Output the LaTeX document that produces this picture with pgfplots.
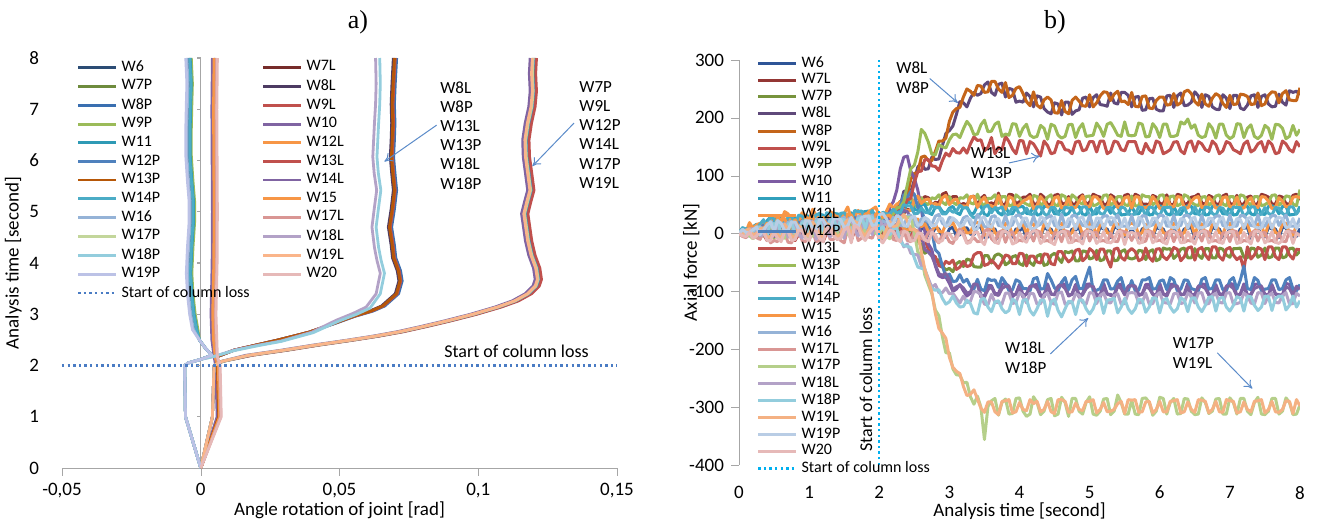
\documentclass[border=0pt]{standalone}
\usepackage{pgfplots}
\pgfplotsset{compat=1.18}
\usepackage{pgfplotstable}
\usepackage{fontspec}
\setmainfont{Carlito}
\newfontfamily\titlefont{Liberation Serif}
\usetikzlibrary{arrows.meta}

% left panel colours
\definecolor{aW6}{HTML}{2C4D75}\definecolor{aW7L}{HTML}{772C2A}\definecolor{aW7P}{HTML}{6E8B3D}
\definecolor{aW8L}{HTML}{4D3B62}\definecolor{aW8P}{HTML}{3A6FB0}\definecolor{aW9L}{HTML}{C0504D}
\definecolor{aW9P}{HTML}{9BBB59}\definecolor{aW10}{HTML}{8064A2}\definecolor{aW11}{HTML}{2E9AB5}
\definecolor{aW12L}{HTML}{F79646}\definecolor{aW12P}{HTML}{4F81BD}\definecolor{aW13L}{HTML}{C0504D}
\definecolor{aW13P}{HTML}{B65708}\definecolor{aW14L}{HTML}{8064A2}\definecolor{aW14P}{HTML}{4BACC6}
\definecolor{aW15}{HTML}{F79646}\definecolor{aW16}{HTML}{95B3D7}\definecolor{aW17L}{HTML}{D99694}
\definecolor{aW17P}{HTML}{C3D69B}\definecolor{aW18L}{HTML}{B3A2C7}\definecolor{aW18P}{HTML}{93CDDD}
\definecolor{aW19L}{HTML}{FAB58A}\definecolor{aW19P}{HTML}{BCC2E6}\definecolor{aW20}{HTML}{E6B9B8}
% right panel colours
\definecolor{bW6}{HTML}{2F5597}\definecolor{bW7L}{HTML}{943634}\definecolor{bW7P}{HTML}{77933C}
\definecolor{bW8L}{HTML}{5F497A}\definecolor{bW8P}{HTML}{C4651A}\definecolor{bW9L}{HTML}{C0504D}
\definecolor{bW9P}{HTML}{9BBB59}\definecolor{bW10}{HTML}{7D5CA3}\definecolor{bW11}{HTML}{31A0BC}
\definecolor{bW12L}{HTML}{F79646}\definecolor{bW12P}{HTML}{4F81BD}\definecolor{bW13L}{HTML}{C0504D}
\definecolor{bW13P}{HTML}{9BBB59}\definecolor{bW14L}{HTML}{8064A2}\definecolor{bW14P}{HTML}{4BACC6}
\definecolor{bW15}{HTML}{F79646}\definecolor{bW16}{HTML}{95B3D7}\definecolor{bW17L}{HTML}{D99694}
\definecolor{bW17P}{HTML}{B5CF8A}\definecolor{bW18L}{HTML}{B3A2C7}\definecolor{bW18P}{HTML}{93CDDD}
\definecolor{bW19L}{HTML}{F4B183}\definecolor{bW19P}{HTML}{B9CDE5}\definecolor{bW20}{HTML}{E6B9B8}
\definecolor{lossA}{HTML}{4A7CC4}
\definecolor{lossB}{HTML}{00B0F0}
\definecolor{arrowc}{HTML}{5B8BC9}

\pgfplotstableread{
t W6 W7L W7P W8L W8P W9L W9P W10 W11 W12L W12P W13L W13P W14L W14P W15 W16 W17L W17P W18L W18P W19L W19P W20
0.0 0 0 0 0 0 0 0 0 0 0 0 0 0 0 0 0 0 0 0 0 0 0 0 0
0.05 3 1 6 0 8 -2 6 2 10 6 5 -3 6 1 10 4 7 -5 6 0 7 -2 7 -4
0.1 3 -4 6 2 -5 4 -2 7 5 3 -6 2 4 -3 8 -2 5 -7 1 3 -4 6 2 -5
0.15 -2 10 2 10 1 4 0 10 9 19 -2 6 0 8 10 13 1 0 -4 8 2 8 2 2
0.2 -6 8 -3 10 4 -8 7 -2 12 9 5 -7 3 9 6 10 -4 2 -9 8 4 -3 7 -8
0.25 6 8 0 3 10 6 2 2 16 15 0 7 6 -2 10 14 7 -7 -2 6 12 0 11 -4
0.3 8 -3 12 -5 15 6 -9 14 4 18 -8 10 -6 4 16 3 12 -10 7 -4 10 8 -2 5
0.35 0 2 12 18 4 -2 11 17 12 16 15 -1 -2 9 24 8 2 3 9 -2 6 10 6 4
0.4 -10 12 2 16 0 -12 10 5 22 14 12 -5 9 12 10 18 4 -2 -6 12 -3 -7 15 -12
0.45 10 4 17 1 23 -6 18 7 29 19 16 -8 19 2 31 13 21 -16 19 1 20 -5 20 -12
0.5 5 -6 14 4 18 8 -4 16 14 30 -2 6 -8 -5 24 8 16 -12 10 0 14 5 3 2
0.55 13 16 0 6 19 11 5 5 31 30 1 14 12 -3 21 27 14 -14 -3 13 23 -1 22 -8
0.6 -8 15 0 18 6 -10 12 4 26 20 14 -9 15 14 12 22 2 0 -8 15 -2 -10 18 -14
0.65 -3 21 5 20 2 7 -1 20 18 38 -3 13 0 15 20 26 2 0 -8 17 5 16 5 3
0.7 10 -2 16 2 22 12 -6 18 12 34 0 8 -2 -4 28 10 20 -15 12 -6 16 7 6 4
0.75 10 4 17 1 23 -6 18 7 29 19 16 -8 19 2 31 13 21 -16 19 1 20 -5 20 -12
0.8 -4 14 -6 20 4 -8 15 6 28 18 16 -12 12 16 14 24 -2 4 -4 18 0 -6 20 -10
0.85 0 3 16 24 6 -3 15 23 16 22 20 -1 -2 12 32 11 3 4 12 -2 8 13 8 6
0.9 12 0 18 6 24 10 -2 20 16 36 -4 10 0 -2 30 6 22 -12 14 -8 18 10 4 6
0.95 13 16 0 6 19 11 5 5 31 30 1 14 12 -3 21 27 14 -14 -3 13 23 -1 22 -8
1.0 -2 16 -2 16 2 -12 16 2 30 22 18 -6 14 18 18 26 0 2 -6 20 2 -4 22 -12
1.05 1 25 9 24 6 11 3 24 22 42 1 17 4 19 24 30 6 4 -4 21 9 20 9 7
1.1 14 2 20 4 20 6 0 22 14 32 -6 12 2 0 32 8 24 -14 16 -10 20 12 6 4
1.15 14 8 21 5 27 -2 22 11 33 23 20 -4 23 6 35 17 25 -12 23 5 24 -1 24 -8
1.2 -6 18 0 22 6 -14 14 8 32 24 20 -8 16 20 16 28 -2 6 -2 22 4 -8 24 -14
1.25 4 7 20 28 10 1 19 27 20 26 24 3 2 16 36 15 7 8 16 2 12 17 12 10
1.3 12 4 22 2 26 8 2 20 18 38 -2 14 4 -4 34 10 26 -10 18 -6 22 14 8 8
1.35 17 20 4 10 23 15 9 9 35 34 5 18 16 1 25 31 18 -10 1 17 27 3 26 -4
1.4 -4 20 -4 18 8 -10 18 6 34 20 22 -4 18 16 20 30 2 0 -4 24 6 -6 26 -10
1.45 14 8 21 5 27 -2 22 11 33 23 20 -4 23 6 35 17 25 -12 23 5 24 -1 24 -8
1.5 16 6 24 8 22 10 4 24 16 34 -4 16 6 2 36 12 28 -16 20 -8 24 16 10 6
1.55 5 29 13 28 10 15 7 28 26 46 5 21 8 23 28 34 10 8 0 25 13 24 13 11
1.6 -8 22 2 24 10 -12 20 10 36 26 24 -10 20 22 22 32 4 4 -8 26 8 -10 28 -16
1.65 8 11 24 32 14 5 23 31 24 30 28 7 6 20 40 19 11 12 20 6 16 21 16 14
1.7 14 8 26 6 28 12 0 26 20 40 0 18 2 0 38 14 30 -12 22 -4 26 18 12 10
1.75 18 12 25 9 31 2 26 15 37 27 24 0 27 10 39 21 29 -8 27 9 28 3 28 -4
1.8 -2 24 0 26 12 -8 22 12 38 28 26 -6 22 24 24 34 6 2 -2 28 10 -4 30 -12
1.85 21 24 8 14 27 19 13 13 39 38 9 22 20 5 29 35 22 -6 5 21 31 7 30 0
1.9 18 10 28 10 30 14 6 28 22 42 2 20 8 4 40 16 32 -8 24 -2 28 20 14 8
1.95 5 29 13 28 10 15 7 28 26 46 5 21 8 23 28 34 10 8 0 25 13 24 13 11
2.0 0 26 -4 22 14 -10 18 8 34 30 20 -8 16 20 26 36 8 -4 0 24 6 -2 32 -10
2.05 4 22 11 14 26 -10 33 9 35 25 25 -6 32 15 37 28 22 -9 11 13 12 -7 35 -16
2.1 -3 34 12 28 20 2 28 24 26 38 14 20 26 22 34 30 18 6 -4 16 2 6 26 -6
2.15 -3 41 -2 40 11 4 24 46 27 51 13 30 22 26 34 32 13 4 -9 17 -2 21 13 6
2.2 10 30 -6 36 26 -8 38 55 40 44 34 22 34 16 42 18 28 -10 14 0 8 12 18 4
2.25 11 42 -6 36 46 12 38 75 46 51 34 43 44 14 36 30 23 -12 9 1 9 14 31 -9
2.3 -6 46 14 48 56 10 44 112 38 54 48 44 46 34 36 24 14 2 22 -8 -12 26 28 -14
2.35 -1 35 14 73 53 0 57 132 38 41 67 46 55 40 50 8 13 5 31 -23 -21 33 14 4
2.4 12 42 2 74 66 -4 56 134 54 40 62 58 84 38 48 6 30 -12 28 -18 -22 22 12 2
2.45 8 40 7 72 94 -5 62 108 53 40 73 61 112 27 48 9 32 -14 28 -34 -24 6 27 -13
2.5 -8 54 -2 92 104 6 48 96 42 58 68 88 118 28 34 22 16 4 2 -36 -42 8 30 -12
2.55 -7 65 -15 115 106 4 46 75 40 65 45 107 141 20 35 25 11 4 -32 -37 -58 0 14 1
2.6 8 58 -18 122 132 -12 62 42 50 52 44 108 180 -2 44 12 26 -8 -38 -56 -60 -32 16 0
2.65 11 64 -34 111 134 -9 53 3 50 58 21 128 173 -28 37 17 25 -11 -72 -62 -61 -62 28 -11
2.7 -4 62 -30 112 126 -28 50 -18 36 60 12 128 158 -32 36 4 20 2 -88 -78 -84 -82 24 -14
2.75 -1 49 -33 132 126 -37 62 -28 33 50 4 117 137 -39 48 3 16 6 -104 -93 -95 -101 13 2
2.8 10 54 -48 128 142 -40 60 -56 46 52 -28 116 136 -54 44 16 30 -10 -132 -88 -98 -138 14 -2
2.85 8 53 -45 129 160 -55 67 -73 47 48 -34 109 154 -69 46 4 33 -16 -142 -102 -97 -164 26 -15
2.9 -6 68 -56 152 160 -58 54 -76 38 62 -56 126 150 -72 34 2 18 -2 -178 -102 -112 -172 26 -12
2.95 -6 71 -63 173 165 -48 50 -75 35 66 -74 139 148 -69 34 16 13 -2 -206 -94 -122 -181 12 1
3.0 8 56 -60 178 194 -52 64 -86 44 50 -70 134 162 -80 42 14 28 -14 -206 -104 -118 -214 16 0
3.05 11 64 -66 186 210 -46 54 -100 47 57 -83 147 171 -97 37 19 26 -17 -234 -103 -108 -231 27 -9
3.1 -4 64 -52 206 216 -62 50 -96 36 60 -82 140 172 -92 38 6 20 -4 -244 -112 -120 -238 22 -10
3.15 -2 49 -48 228 218 -58 62 -88 33 48 -71 139 166 -89 49 2 14 9 -245 -120 -127 -242 12 4
3.2 9 52 -57 226 236 -48 61 -99 47 48 -84 148 181 -94 44 12 27 1 -258 -108 -126 -264 15 -3
3.25 10 49 -44 219 250 -57 67 -108 46 47 -79 139 194 -103 45 1 30 -15 -257 -119 -115 -280 26 -17
3.3 -1 63 -46 234 246 -55 53 -103 35 64 -91 155 186 -101 33 1 16 -12 -282 -117 -121 -278 25 -15
3.35 -2 65 -57 244 239 -37 51 -89 35 64 -96 167 171 -87 27 18 14 -7 -295 -100 -137 -270 7 1
3.4 12 49 -58 239 256 -33 68 -87 48 45 -79 161 172 -88 30 19 33 -14 -281 -101 -139 -286 8 3
3.45 11 61 -58 242 255 -33 54 -106 47 56 -96 162 188 -110 35 17 24 -13 -300 -106 -114 -302 26 -12
3.5 -7 66 -38 257 244 -55 47 -108 33 63 -99 143 196 -110 46 -3 12 4 -356 -122 -112 -309 29 -19
3.55 -6 51 -38 262 245 -53 61 -90 31 50 -78 149 176 -97 49 -1 11 8 -299 -123 -127 -291 14 1
3.6 3 53 -51 244 263 -46 61 -90 45 48 -81 166 177 -92 36 15 29 -9 -289 -105 -135 -291 11 1
3.65 8 51 -38 239 263 -52 67 -104 45 45 -80 138 189 -105 45 2 31 -15 -285 -119 -118 -308 24 -15
3.7 -9 70 -35 258 250 -60 52 -104 36 66 -93 149 193 -107 43 -5 14 2 -314 -119 -116 -313 26 -17
3.75 -2 50 -39 260 244 -49 64 -88 32 48 -76 145 168 -95 46 0 13 5 -292 -122 -130 -290 12 3
3.8 10 51 -54 236 261 -37 64 -86 47 42 -85 168 172 -91 31 18 31 -15 -286 -103 -137 -289 9 4
3.85 -5 68 -50 251 235 -39 48 -91 34 64 -99 159 170 -92 34 15 12 1 -312 -103 -133 -287 9 0
3.9 -6 67 -40 249 239 -52 49 -109 34 61 -97 146 190 -106 45 -2 15 3 -311 -121 -113 -310 28 -18
3.95 8 51 -38 227 251 -52 67 -104 45 45 -80 138 189 -105 45 2 31 -15 -285 -119 -118 -308 24 -15
4.0 5 55 -52 229 254 -34 62 -88 46 50 -83 161 168 -93 33 14 32 -11 -284 -102 -140 -292 10 2
4.05 11 63 -55 227 242 -35 54 -106 47 56 -95 160 182 -110 35 16 24 -13 -307 -107 -115 -304 26 -11
4.1 -10 63 -37 243 228 -56 51 -105 35 59 -95 138 189 -104 44 0 13 0 -316 -120 -114 -306 27 -15
4.15 -5 68 -50 237 221 -39 48 -91 34 64 -99 159 170 -92 34 15 12 1 -312 -103 -133 -287 9 0
4.2 9 52 -55 219 245 -39 66 -89 48 43 -78 155 166 -90 32 17 30 -13 -282 -104 -141 -294 8 5
4.25 -2 50 -39 238 222 -49 64 -88 32 48 -76 145 168 -95 46 0 13 5 -292 -122 -130 -290 12 3
4.3 -5 68 -36 236 217 -51 48 -107 33 64 -96 134 187 -108 46 -4 16 2 -313 -121 -115 -308 29 -17
4.35 11 63 -55 216 231 -35 54 -106 47 56 -95 160 182 -110 35 16 24 -13 -307 -107 -115 -304 26 -11
4.4 7 50 -53 210 236 -36 63 -87 47 46 -69 152 163 -92 30 16 28 -12 -287 -103 -143 -290 9 3
4.45 8 51 -38 207 231 -52 67 -104 45 45 -80 138 189 -105 45 2 31 -15 -285 -119 -118 -308 24 -15
4.5 -8 66 -34 226 209 -54 50 -106 34 62 -94 140 186 -105 45 -1 14 1 -315 -122 -113 -311 28 -19
4.55 -5 68 -42 224 208 -31 48 -91 34 64 -99 159 170 -92 34 15 12 1 -312 -103 -133 -287 9 0
4.6 11 53 -50 205 230 -31 67 -86 46 44 -84 157 165 -89 31 18 33 -14 -283 -101 -144 -287 10 4
4.65 -2 50 -31 227 211 -41 64 -88 32 48 -76 145 168 -95 46 0 13 5 -292 -122 -130 -290 12 3
4.7 -4 64 -33 227 207 -49 49 -108 35 61 -97 144 188 -107 44 -3 12 3 -316 -120 -117 -309 26 -16
4.75 8 51 -30 206 230 -44 67 -104 45 45 -80 138 189 -105 45 2 31 -15 -285 -119 -118 -308 24 -15
4.8 6 51 -47 212 236 -29 62 -88 47 45 -74 158 166 -91 32 15 31 -11 -285 -104 -140 -293 8 2
4.85 11 63 -47 214 229 -27 54 -106 47 56 -95 160 182 -110 35 16 24 -13 -307 -107 -115 -304 26 -11
4.9 -9 67 -30 234 221 -47 51 -104 33 65 -95 143 190 -106 46 -2 14 0 -312 -119 -115 -306 29 -18
4.95 -2 50 -31 236 220 -41 64 -88 32 48 -76 145 168 -95 46 0 13 5 -292 -122 -130 -290 12 3
5.0 12 54 -44 219 240 -26 65 -87 48 46 -58 159 169 -90 30 19 32 -13 -282 -102 -139 -290 11 5
5.05 -5 68 -42 235 219 -31 48 -91 34 64 -99 159 170 -92 34 15 12 1 -312 -103 -130 -287 9 0
5.1 -6 65 -29 240 226 -45 50 -106 34 63 -98 141 191 -108 44 -4 13 2 -314 -121 -113 -310 27 -17
5.15 11 63 -47 223 238 -27 54 -106 47 56 -95 160 182 -110 35 16 24 -13 -307 -107 -112 -304 26 -11
5.2 8 50 -45 222 245 -27 66 -86 46 43 -80 160 168 -92 33 16 30 -12 -286 -103 -138 -292 9 3
5.25 8 51 -30 220 244 -44 67 -104 45 45 -80 138 189 -105 45 2 31 -15 -285 -119 -115 -308 24 -15
5.3 -7 67 -30 243 230 -58 49 -107 35 64 -96 142 192 -105 45 -1 15 1 -313 -120 -114 -307 28 -16
5.35 11 63 -47 226 241 -27 54 -106 47 56 -95 160 182 -110 35 16 24 -13 -307 -107 -112 -304 26 -11
5.4 10 52 -46 224 246 -25 64 -88 47 45 -82 158 170 -91 31 17 32 -14 -279 -104 -137 -294 10 4
5.45 -2 50 -31 244 228 -41 64 -88 32 48 -76 145 168 -95 46 0 13 5 -292 -122 -127 -290 12 3
5.5 -5 66 -28 244 229 -46 50 -105 33 62 -97 143 193 -106 44 -3 13 3 -312 -121 -112 -311 27 -19
5.55 -5 68 -42 239 223 -31 48 -91 34 64 -99 159 170 -92 34 15 12 1 -312 -103 -130 -287 9 0
5.6 9 53 -44 219 244 -26 65 -87 48 44 -81 159 169 -90 32 18 31 -12 -288 -102 -138 -288 9 2
5.65 -5 68 -42 236 220 -31 48 -91 34 64 -99 159 170 -92 34 15 12 1 -312 -103 -130 -287 9 0
5.7 -8 65 -29 237 219 -47 48 -106 34 63 -98 141 191 -107 46 -2 14 0 -313 -120 -113 -309 28 -17
5.75 8 51 -30 213 237 -44 67 -104 45 45 -80 138 189 -105 45 2 31 -15 -285 -119 -115 -308 24 -15
5.8 11 51 -45 214 238 -25 64 -88 47 45 -80 156 167 -92 30 16 30 -13 -284 -103 -136 -291 10 5
5.85 -2 50 -31 233 217 -41 64 -88 32 48 -76 145 168 -95 46 0 13 5 -292 -122 -127 -290 12 3
5.9 -6 66 -28 234 216 -48 50 -105 33 64 -96 140 190 -105 45 -4 15 2 -314 -121 -111 -310 27 -16
5.95 11 63 -47 215 230 -27 54 -106 47 56 -95 160 182 -110 35 16 24 -13 -307 -107 -112 -304 26 -11
6.0 8 52 -44 212 236 -26 66 -86 48 43 -82 157 166 -91 31 17 32 -11 -283 -102 -137 -290 9 3
6.05 8 51 -25 212 236 -40 67 -104 45 45 -80 138 189 -105 45 2 31 -15 -285 -119 -115 -308 24 -15
6.1 -7 67 -27 238 222 -45 49 -107 34 62 -97 141 189 -108 45 -1 13 1 -312 -120 -112 -308 28 -18
6.15 -2 50 -26 239 223 -37 64 -88 32 48 -76 145 168 -95 46 0 13 5 -292 -122 -127 -290 12 3
6.2 10 50 -43 218 242 -24 65 -87 47 46 -80 158 168 -90 32 18 31 -14 -285 -104 -136 -289 10 4
6.25 -5 68 -37 238 222 -27 48 -91 34 64 -99 159 170 -92 34 15 12 1 -312 -103 -130 -287 9 0
6.3 -5 66 -27 243 226 -47 51 -106 33 63 -96 143 193 -106 44 -3 14 3 -311 -121 -111 -310 26 -16
6.35 8 51 -25 221 245 -40 67 -104 45 45 -80 138 189 -105 45 2 31 -15 -285 -119 -115 -308 24 -15
6.4 9 52 -42 222 248 -25 64 -86 48 44 -81 157 198 -92 31 16 32 -12 -286 -103 -135 -291 9 3
6.45 11 63 -42 227 242 -23 54 -106 47 56 -95 160 182 -110 35 16 24 -13 -307 -107 -112 -304 26 -11
6.5 -8 64 -26 245 228 -46 50 -105 34 62 -97 142 188 -107 46 -2 13 0 -313 -120 -111 -309 28 -18
6.55 -5 68 -37 238 222 -27 48 -91 34 64 -99 159 170 -92 34 15 12 1 -312 -103 -127 -287 9 0
6.6 11 53 -43 218 241 -24 63 -87 47 45 -79 155 166 -91 30 17 31 -13 -284 -102 -135 -288 10 5
6.65 -2 50 -26 240 224 -37 64 -88 32 48 -76 145 168 -95 46 0 13 5 -292 -122 -124 -290 12 3
6.7 -6 66 -26 237 220 -45 49 -106 33 63 -96 142 190 -106 45 -4 15 2 -311 -121 -110 -310 27 -16
6.75 11 63 -42 219 234 -23 54 -106 47 56 -95 160 182 -110 35 16 24 -13 -307 -107 -109 -304 26 -11
6.8 8 51 -42 215 242 -23 65 -88 48 44 -80 154 165 -92 31 16 30 -12 -286 -103 -134 -290 9 3
6.85 8 51 -25 214 238 -40 67 -104 45 45 -80 138 189 -105 45 2 31 -15 -285 -119 -112 -308 24 -15
6.9 -7 65 -27 240 225 -46 51 -105 34 62 -97 143 189 -107 44 -1 14 1 -312 -120 -110 -309 28 -17
6.95 -5 68 -37 234 218 -27 48 -91 34 64 -99 159 170 -92 34 15 12 1 -312 -103 -127 -287 9 0
7.0 10 52 -41 216 239 -24 64 -86 47 46 -81 156 164 -90 32 18 32 -14 -284 -102 -134 -289 10 4
7.05 -2 50 -26 239 223 -37 64 -88 32 48 -76 145 168 -95 46 0 13 5 -292 -122 -124 -290 12 3
7.1 -5 66 -26 239 224 -45 50 -107 33 63 -96 142 190 -108 45 -3 13 3 -312 -121 -109 -310 26 -17
7.15 8 51 -25 217 241 -40 67 -104 45 45 -80 138 189 -105 45 2 31 -15 -285 -119 -112 -308 24 -15
7.2 9 51 -41 214 240 -62 65 -87 48 44 -56 155 166 -91 30 16 31 -12 -285 -103 -134 -291 9 2
7.25 11 63 -42 222 237 -23 54 -106 47 56 -95 160 182 -110 35 16 24 -13 -307 -107 -109 -304 26 -11
7.3 -8 65 -25 238 223 -44 49 -106 34 62 -97 141 188 -106 46 -2 14 0 -313 -120 -109 -308 28 -18
7.35 -2 50 -26 240 224 -37 64 -88 32 48 -76 145 168 -95 46 0 13 5 -292 -122 -124 -290 12 3
7.4 11 52 -41 218 243 -24 64 -87 47 45 -81 155 164 -92 31 17 32 -13 -283 -102 -133 -289 10 5
7.45 -5 68 -37 237 221 -27 48 -91 34 64 -99 159 170 -92 34 15 12 1 -312 -103 -127 -287 9 0
7.5 -6 66 -25 240 224 -45 50 -105 33 63 -96 141 187 -107 45 -4 13 2 -313 -121 -108 -310 27 -16
7.55 11 63 -42 224 239 -23 54 -106 47 56 -95 160 182 -110 35 16 24 -13 -307 -107 -109 -304 26 -11
7.6 8 51 -40 219 245 -23 66 -88 48 43 -80 154 163 -90 32 16 31 -12 -285 -103 -133 -290 9 3
7.65 8 51 -25 220 244 -40 67 -104 45 45 -80 138 189 -105 45 2 31 -15 -285 -119 -112 -308 24 -15
7.7 -7 65 -25 241 226 -45 49 -106 34 62 -97 140 188 -106 44 -1 14 1 -312 -120 -108 -309 28 -17
7.75 11 63 -42 227 242 -23 54 -106 47 56 -95 160 182 -110 35 16 24 -13 -307 -107 -109 -304 26 -11
7.8 10 52 -40 222 247 -23 65 -86 47 46 -80 155 164 -92 31 18 32 -14 -284 -102 -132 -289 10 4
7.85 -2 50 -26 247 231 -37 64 -88 32 48 -76 145 168 -95 46 0 13 5 -292 -122 -124 -290 12 3
7.9 -5 66 -25 244 230 -44 51 -105 33 63 -96 141 187 -107 46 -3 13 3 -313 -121 -108 -311 26 -17
7.95 -5 68 -37 246 230 -27 48 -91 34 64 -99 159 170 -92 34 15 12 1 -312 -103 -127 -287 9 0
8.0 9 58 -30 240 252 -28 76 -92 47 62 -88 150 180 -96 42 14 27 -3 -296 -108 -116 -298 16 -4
}\fdata

\begin{document}
\begin{tikzpicture}
\useasboundingbox (0,0) rectangle (659pt,262pt);
\node[font=\titlefont\fontsize{13}{15}\selectfont] at (179pt,251pt) {a)};
\node[font=\titlefont\fontsize{13}{15}\selectfont] at (527.5pt,251pt) {b)};

% ---------------- left panel ----------------
\begin{axis}[
  at={(31pt,28pt)}, anchor=south west,
  scale only axis, width=277.5pt, height=205pt,
  xmin=-0.05, xmax=0.15, ymin=0, ymax=8,
  clip=false,
  axis x line=bottom, axis y line=left,
  axis line style={-},
  x axis line style={draw=black!35},
  y axis line style={draw=none},
  xtick={-0.05,0,0.05,0.1,0.15},
  xticklabels={{-0,05},{0},{0,05},{0,1},{0,15}},
  ytick={0,1,...,8},
  tick align=outside, major tick length=4pt,
  xtick style={draw=black!35},
  ytick style={draw=none},
  ticklabel style={font=\fontsize{9.5}{11}\selectfont},
  /pgf/number format/assume math mode=true,
  yticklabel style={xshift=-4pt},
  xlabel={Angle rotation of joint [rad]},
  ylabel={Analysis time [second]},
  label style={font=\fontsize{9.5}{11}\selectfont},
  xlabel style={yshift=5pt},
  ylabel shift=-3pt,
  legend columns=2,
  legend cell align=left,
  legend image code/.code={\draw[#1] (0pt,0pt) -- (19pt,0pt);},
  legend style={at={(0.015,1.015)}, anchor=north west, draw=none, fill=none,
     font=\fontsize{8}{9}\selectfont, row sep=-1.4pt,
     /tikz/every even column/.append style={column sep=4pt}},
  every axis plot/.append style={line width=1.4pt, line join=round},
]
\addplot[black!35, line width=0.6pt, forget plot] coordinates {(0,0) (0,8)};
% W6
\addplot[aW6] coordinates {(0,0) (-0.0055,1) (-0.0058,2) (-0.0045,2.05) (0,2.12) (0.004,2.2) (0.0015,2.35) (-0.0005,2.5) (-0.002,2.7) (-0.003,3) (-0.0038,3.4) (-0.0042,3.8) (-0.0038,4.3) (-0.0032,4.8) (-0.0032,5.2) (-0.0038,5.6) (-0.0044,6.1) (-0.0044,6.6) (-0.0042,7.1) (-0.004,7.5) (-0.0044,8)};
\addlegendentry{W6}
% W7L
\addplot[aW7L] coordinates {(0,0) (0.007,1) (0.0065,2) (0.0057,2.17) (0.0051,2.5) (0.0048,3) (0.005,3.5) (0.0052,4) (0.0053,5) (0.0052,6) (0.0051,7) (0.0053,8)};
\addlegendentry{W7L}
% W7P
\addplot[aW7P] coordinates {(0,0) (0.0042,1) (0.0048,2) (0.008,2.08) (0.0182,2.2) (0.031,2.3) (0.0425,2.4) (0.054,2.49) (0.0635,2.57) (0.0727,2.66) (0.081,2.76) (0.0896,2.87) (0.099,3.0) (0.1078,3.14) (0.114,3.26) (0.1187,3.4) (0.1215,3.55) (0.1223,3.68) (0.1217,3.9) (0.12,4.15) (0.1188,4.43) (0.1174,4.96) (0.1185,5.2) (0.1196,5.42) (0.1188,5.75) (0.118,6.07) (0.1178,6.4) (0.1187,6.73) (0.12,7.05) (0.1205,7.35) (0.1202,7.7) (0.1205,8)};
\addlegendentry{W7P}
% W8L
\addplot[aW8L] coordinates {(0,0) (0.0065,1) (0.006,2) (0.0058,2.17) (0.012,2.3) (0.02,2.4) (0.028,2.5) (0.039,2.65) (0.048,2.82) (0.0548,2.96) (0.0608,3.06) (0.0651,3.16) (0.0701,3.4) (0.0714,3.65) (0.0708,3.85) (0.0691,4.1) (0.0686,4.35) (0.0676,4.7) (0.0686,5.05) (0.0694,5.42) (0.0688,5.75) (0.0683,6.07) (0.0686,6.4) (0.0688,6.73) (0.0686,7.1) (0.0689,7.5) (0.0694,8)};
\addlegendentry{W8L}
% W8P
\addplot[aW8P] coordinates {(0,0) (0.0065,1) (0.006,2) (0.0058,2.17) (0.012,2.3) (0.02,2.4) (0.028,2.5) (0.039,2.65) (0.0484,2.82) (0.0556,2.96) (0.062,3.06) (0.0663,3.16) (0.0713,3.4) (0.0726,3.65) (0.072,3.85) (0.0703,4.1) (0.0698,4.35) (0.0688,4.7) (0.0698,5.05) (0.0706,5.42) (0.07,5.75) (0.0695,6.07) (0.0698,6.4) (0.07,6.73) (0.0698,7.1) (0.0701,7.5) (0.0706,8)};
\addlegendentry{W8P}
% W9L
\addplot[aW9L] coordinates {(0,0) (0.0042,1) (0.0048,2) (0.0078,2.08) (0.0187,2.2) (0.0315,2.3) (0.043,2.4) (0.0545,2.49) (0.064,2.57) (0.0732,2.66) (0.0815,2.76) (0.0901,2.87) (0.0995,3.0) (0.1083,3.14) (0.1145,3.26) (0.1192,3.4) (0.122,3.55) (0.1228,3.68) (0.1222,3.9) (0.1205,4.15) (0.1193,4.43) (0.1179,4.96) (0.119,5.2) (0.1201,5.42) (0.1193,5.75) (0.1185,6.07) (0.1183,6.4) (0.1192,6.73) (0.1205,7.05) (0.121,7.35) (0.1207,7.7) (0.121,8)};
\addlegendentry{W9L}
% W9P
\addplot[aW9P] coordinates {(0,0) (-0.0055,1) (-0.0058,2) (-0.0045,2.05) (0,2.12) (0.004,2.2) (0.0015,2.35) (-0.0005,2.5) (-0.001,2.7) (-0.002,3) (-0.0028,3.4) (-0.0032,3.8) (-0.0028,4.3) (-0.0022,4.8) (-0.0022,5.2) (-0.0028,5.6) (-0.0034,6.1) (-0.0034,6.6) (-0.0032,7.1) (-0.003,7.5) (-0.0034,8)};
\addlegendentry{W9P}
% W10
\addplot[aW10] coordinates {(0,0) (0.0059,1) (0.0054,2) (0.0048,2.17) (0.004,2.5) (0.0037,3) (0.0039,3.5) (0.0041,4) (0.0042,5) (0.0041,6) (0.004,7) (0.0042,8)};
\addlegendentry{W10}
% W11
\addplot[aW11] coordinates {(0,0) (-0.0055,1) (-0.0058,2) (-0.0045,2.05) (0,2.12) (0.004,2.2) (0.0015,2.35) (-0.0005,2.5) (-0.0014,2.7) (-0.0024,3) (-0.0032,3.4) (-0.0036,3.8) (-0.0032,4.3) (-0.0026,4.8) (-0.0026,5.2) (-0.0032,5.6) (-0.0038,6.1) (-0.0038,6.6) (-0.0036,7.1) (-0.0034,7.5) (-0.0038,8)};
\addlegendentry{W11}
% W12L
\addplot[aW12L] coordinates {(0,0) (0.0065,1) (0.006,2) (0.0052,2.17) (0.0046,2.5) (0.0043,3) (0.0045,3.5) (0.0047,4) (0.0048,5) (0.0047,6) (0.0046,7) (0.0048,8)};
\addlegendentry{W12L}
% W12P
\addplot[aW12P] coordinates {(0,0) (0.0042,1) (0.0048,2) (0.0077,2.08) (0.0177,2.2) (0.0305,2.3) (0.042,2.4) (0.0535,2.49) (0.063,2.57) (0.0722,2.66) (0.0805,2.76) (0.0891,2.87) (0.0985,3.0) (0.1073,3.14) (0.1135,3.26) (0.1182,3.4) (0.121,3.55) (0.1218,3.68) (0.1212,3.9) (0.1195,4.15) (0.1183,4.43) (0.1169,4.96) (0.118,5.2) (0.1191,5.42) (0.1183,5.75) (0.1175,6.07) (0.1173,6.4) (0.1182,6.73) (0.1195,7.05) (0.12,7.35) (0.1197,7.7) (0.12,8)};
\addlegendentry{W12P}
% W13L
\addplot[aW13L] coordinates {(0,0) (0.0065,1) (0.006,2) (0.0058,2.17) (0.012,2.3) (0.02,2.4) (0.028,2.5) (0.039,2.65) (0.048,2.82) (0.0553,2.96) (0.0615,3.06) (0.0658,3.16) (0.0708,3.4) (0.0721,3.65) (0.0715,3.85) (0.0698,4.1) (0.0693,4.35) (0.0683,4.7) (0.0693,5.05) (0.0701,5.42) (0.0695,5.75) (0.069,6.07) (0.0693,6.4) (0.0695,6.73) (0.0693,7.1) (0.0696,7.5) (0.0701,8)};
\addlegendentry{W13L}
% W13P
\addplot[aW13P] coordinates {(0,0) (0.0065,1) (0.006,2) (0.0058,2.17) (0.012,2.3) (0.02,2.4) (0.028,2.5) (0.039,2.65) (0.048,2.82) (0.055,2.96) (0.0612,3.06) (0.0655,3.16) (0.0705,3.4) (0.0718,3.65) (0.0712,3.85) (0.0695,4.1) (0.069,4.35) (0.068,4.7) (0.069,5.05) (0.0698,5.42) (0.0692,5.75) (0.0687,6.07) (0.069,6.4) (0.0692,6.73) (0.069,7.1) (0.0693,7.5) (0.0698,8)};
\addlegendentry{W13P}
% W14L
\addplot[aW14L] coordinates {(0,0) (0.0042,1) (0.0048,2) (0.0074,2.08) (0.0164,2.2) (0.0292,2.3) (0.0407,2.4) (0.0522,2.49) (0.0617,2.57) (0.0709,2.66) (0.0792,2.76) (0.0878,2.87) (0.0972,3.0) (0.106,3.14) (0.1122,3.26) (0.1169,3.4) (0.1197,3.55) (0.1205,3.68) (0.1199,3.9) (0.1182,4.15) (0.117,4.43) (0.1156,4.96) (0.1167,5.2) (0.1178,5.42) (0.117,5.75) (0.1162,6.07) (0.116,6.4) (0.1169,6.73) (0.1182,7.05) (0.1187,7.35) (0.1184,7.7) (0.1187,8)};
\addlegendentry{W14L}
% W14P
\addplot[aW14P] coordinates {(0,0) (-0.0055,1) (-0.0058,2) (-0.0045,2.05) (0,2.12) (0.004,2.2) (0.0015,2.35) (-0.0005,2.5) (-0.0016,2.7) (-0.0026,3) (-0.0034,3.4) (-0.0038,3.8) (-0.0034,4.3) (-0.0028,4.8) (-0.0028,5.2) (-0.0034,5.6) (-0.004,6.1) (-0.004,6.6) (-0.0038,7.1) (-0.0036,7.5) (-0.004,8)};
\addlegendentry{W14P}
% W15
\addplot[aW15] coordinates {(0,0) (0.0068,1) (0.0063,2) (0.0054,2.17) (0.0049,2.5) (0.0046,3) (0.0048,3.5) (0.005,4) (0.0051,5) (0.005,6) (0.0049,7) (0.0051,8)};
\addlegendentry{W15}
% W16
\addplot[aW16] coordinates {(0,0) (-0.0055,1) (-0.0058,2) (-0.0045,2.05) (0,2.12) (0.004,2.2) (0.0015,2.35) (-0.0005,2.5) (-0.0026,2.7) (-0.0036,3) (-0.0044,3.4) (-0.0048,3.8) (-0.0044,4.3) (-0.0038,4.8) (-0.0038,5.2) (-0.0044,5.6) (-0.005,6.1) (-0.005,6.6) (-0.0048,7.1) (-0.0046,7.5) (-0.005,8)};
\addlegendentry{W16}
% W17L
\addplot[aW17L] coordinates {(0,0) (0.0072,1) (0.0068,2) (0.0058,2.17) (0.0055,2.5) (0.0052,3) (0.0054,3.5) (0.0056,4) (0.0057,5) (0.0056,6) (0.0055,7) (0.0057,8)};
\addlegendentry{W17L}
% W17P
\addplot[aW17P] coordinates {(0,0) (0.0042,1) (0.0048,2) (0.0076,2.08) (0.0175,2.2) (0.0303,2.3) (0.0418,2.4) (0.0533,2.49) (0.0628,2.57) (0.072,2.66) (0.0803,2.76) (0.0889,2.87) (0.0983,3.0) (0.1071,3.14) (0.1133,3.26) (0.118,3.4) (0.1208,3.55) (0.1216,3.68) (0.121,3.9) (0.1193,4.15) (0.1181,4.43) (0.1167,4.96) (0.1178,5.2) (0.1189,5.42) (0.1181,5.75) (0.1173,6.07) (0.1171,6.4) (0.118,6.73) (0.1193,7.05) (0.1198,7.35) (0.1195,7.7) (0.1198,8)};
\addlegendentry{W17P}
% W18L
\addplot[aW18L] coordinates {(0,0) (-0.0055,1) (-0.0058,2) (-0.0045,2.05) (0,2.12) (0.005,2.18) (0.012,2.3) (0.021,2.4) (0.029,2.48) (0.04,2.65) (0.0487,2.88) (0.055,3.02) (0.0596,3.14) (0.0632,3.4) (0.0647,3.8) (0.0635,4.05) (0.0626,4.3) (0.0617,4.7) (0.0625,5.05) (0.0634,5.42) (0.0625,5.75) (0.062,6.07) (0.0623,6.4) (0.0626,6.73) (0.063,7.1) (0.0632,7.5) (0.063,8)};
\addlegendentry{W18L}
% W18P
\addplot[aW18P] coordinates {(0,0) (-0.0055,1) (-0.0058,2) (-0.0045,2.05) (0,2.12) (0.005,2.18) (0.012,2.29) (0.021,2.39) (0.029,2.47) (0.0405,2.64) (0.0495,2.86) (0.0562,3.0) (0.061,3.12) (0.0647,3.4) (0.0662,3.8) (0.065,4.05) (0.0641,4.3) (0.0632,4.7) (0.064,5.05) (0.0649,5.42) (0.064,5.75) (0.0635,6.07) (0.0638,6.4) (0.0641,6.73) (0.0645,7.1) (0.0647,7.5) (0.0645,8)};
\addlegendentry{W18P}
% W19L
\addplot[aW19L] coordinates {(0,0) (0.0042,1) (0.0048,2) (0.0076,2.08) (0.0172,2.2) (0.03,2.3) (0.0415,2.4) (0.053,2.49) (0.0625,2.57) (0.0717,2.66) (0.08,2.76) (0.0886,2.87) (0.098,3.0) (0.1068,3.14) (0.113,3.26) (0.1177,3.4) (0.1205,3.55) (0.1213,3.68) (0.1207,3.9) (0.119,4.15) (0.1178,4.43) (0.1164,4.96) (0.1175,5.2) (0.1186,5.42) (0.1178,5.75) (0.117,6.07) (0.1168,6.4) (0.1177,6.73) (0.119,7.05) (0.1195,7.35) (0.1192,7.7) (0.1195,8)};
\addlegendentry{W19L}
% W19P
\addplot[aW19P] coordinates {(0,0) (-0.0055,1) (-0.0058,2) (-0.0045,2.05) (0,2.12) (0.004,2.2) (0.0015,2.35) (-0.0005,2.5) (-0.003,2.7) (-0.004,3) (-0.0048,3.4) (-0.0052,3.8) (-0.0048,4.3) (-0.0042,4.8) (-0.0042,5.2) (-0.0048,5.6) (-0.0054,6.1) (-0.0054,6.6) (-0.0052,7.1) (-0.005,7.5) (-0.0054,8)};
\addlegendentry{W19P}
% W20
\addplot[aW20] coordinates {(0,0) (0.0074,1) (0.007,2) (0.006,2.17) (0.0058,2.5) (0.0055,3) (0.0057,3.5) (0.0059,4) (0.006,5) (0.0059,6) (0.0058,7) (0.006,8)};
\addlegendentry{W20}
% start of column loss
\addplot[lossA, line width=1.2pt, dash pattern=on 1.2pt off 1.6pt] coordinates {(-0.05,2) (0.15,2)};
\addlegendentry{Start of column loss}

\draw[black!35, line width=0.6pt] (axis cs:0,1) -- (axis cs:-0.0012,1) (axis cs:0,2) -- (axis cs:-0.0012,2) (axis cs:0,3) -- (axis cs:-0.0012,3) (axis cs:0,4) -- (axis cs:-0.0012,4) (axis cs:0,5) -- (axis cs:-0.0012,5) (axis cs:0,6) -- (axis cs:-0.0012,6) (axis cs:0,7) -- (axis cs:-0.0012,7) (axis cs:0,8) -- (axis cs:-0.0012,8);
\node[anchor=north west, align=left, inner sep=0pt, font=\fontsize{8.5}{9.6}\selectfont] at (axis cs:0.0862,7.55) {W8L\\W8P\\W13L\\W13P\\W18L\\W18P};
\draw[arrowc, line width=0.5pt, -{To[length=4pt,width=5pt]}] (axis cs:0.085,6.69) -- (axis cs:0.0662,5.98);
\node[anchor=north west, align=left, inner sep=0pt, font=\fontsize{8.5}{9.6}\selectfont] at (axis cs:0.1363,7.55) {W7P\\W9L\\W12P\\W14L\\W17P\\W19L};
\draw[arrowc, line width=0.5pt, -{To[length=4pt,width=5pt]}] (axis cs:0.1345,6.73) -- (axis cs:0.1195,5.89);
\node[font=\fontsize{9}{10}\selectfont] at (axis cs:0.1138,2.27) {Start of column loss};
\end{axis}

% ---------------- right panel ----------------
\begin{axis}[
  at={(369.5pt,29.5pt)}, anchor=south west,
  scale only axis, width=280.5pt, height=202.5pt,
  xmin=0, xmax=8, ymin=-400, ymax=300,
  axis x line=bottom, axis y line=left, axis line style={-},
  x axis line style={draw=none}, xtick style={draw=none},
  y axis line style={draw=black!35}, ytick style={draw=black!35},
  tick align=outside, major tick length=4pt,
  xtick={0,1,...,8}, ytick={-400,-300,...,300},
  ticklabel style={font=\fontsize{9.5}{11}\selectfont},
  /pgf/number format/assume math mode=true,
  xticklabel style={yshift=-3pt},
  xlabel={Analysis time [second]},
  ylabel={Axial force [kN]},
  label style={font=\fontsize{9.5}{11}\selectfont},
  xlabel style={yshift=5pt},
  ylabel shift=-12pt,
  legend cell align=left,
  legend image code/.code={\draw[#1] (0pt,0pt) -- (19pt,0pt);},
  legend style={at={(0.02,1.03)}, anchor=north west, draw=none, fill=none,
     font=\fontsize{8}{9}\selectfont, row sep=-2.3pt},
  every axis plot/.append style={line width=1.5pt, line join=round},
]
\addplot[black!35, line width=0.5pt, forget plot] coordinates {(0,0) (8,0)};
\addplot[bW6] table[x=t,y=W6]{\fdata}; \addlegendentry{W6}
\addplot[bW7L] table[x=t,y=W7L]{\fdata}; \addlegendentry{W7L}
\addplot[bW7P] table[x=t,y=W7P]{\fdata}; \addlegendentry{W7P}
\addplot[bW8L] table[x=t,y=W8L]{\fdata}; \addlegendentry{W8L}
\addplot[bW8P] table[x=t,y=W8P]{\fdata}; \addlegendentry{W8P}
\addplot[bW9L] table[x=t,y=W9L]{\fdata}; \addlegendentry{W9L}
\addplot[bW9P] table[x=t,y=W9P]{\fdata}; \addlegendentry{W9P}
\addplot[bW10] table[x=t,y=W10]{\fdata}; \addlegendentry{W10}
\addplot[bW11] table[x=t,y=W11]{\fdata}; \addlegendentry{W11}
\addplot[bW12L] table[x=t,y=W12L]{\fdata}; \addlegendentry{W12L}
\addplot[bW12P] table[x=t,y=W12P]{\fdata}; \addlegendentry{W12P}
\addplot[bW13L] table[x=t,y=W13L]{\fdata}; \addlegendentry{W13L}
\addplot[bW13P] table[x=t,y=W13P]{\fdata}; \addlegendentry{W13P}
\addplot[bW14L] table[x=t,y=W14L]{\fdata}; \addlegendentry{W14L}
\addplot[bW14P] table[x=t,y=W14P]{\fdata}; \addlegendentry{W14P}
\addplot[bW15] table[x=t,y=W15]{\fdata}; \addlegendentry{W15}
\addplot[bW16] table[x=t,y=W16]{\fdata}; \addlegendentry{W16}
\addplot[bW17L] table[x=t,y=W17L]{\fdata}; \addlegendentry{W17L}
\addplot[bW17P] table[x=t,y=W17P]{\fdata}; \addlegendentry{W17P}
\addplot[bW18L] table[x=t,y=W18L]{\fdata}; \addlegendentry{W18L}
\addplot[bW18P] table[x=t,y=W18P]{\fdata}; \addlegendentry{W18P}
\addplot[bW19L] table[x=t,y=W19L]{\fdata}; \addlegendentry{W19L}
\addplot[bW19P] table[x=t,y=W19P]{\fdata}; \addlegendentry{W19P}
\addplot[bW20] table[x=t,y=W20]{\fdata}; \addlegendentry{W20}
\addplot[lossB, line width=1.2pt, dash pattern=on 1.2pt off 1.6pt] coordinates {(2,-400) (2,300)};
\addlegendentry{Start of column loss}

\node[rotate=90, font=\fontsize{9}{10}\selectfont] at (axis cs:1.81,-252) {Start of column loss};
\node[anchor=north west, align=left, inner sep=0pt, font=\fontsize{8.5}{10}\selectfont] at (axis cs:2.24,298) {W8L\\W8P};
\draw[arrowc, line width=0.5pt, -{To[length=4pt,width=5pt]}] (axis cs:2.72,268) -- (axis cs:3.12,226);
\node[anchor=north west, align=left, inner sep=0pt, font=\fontsize{8.5}{10}\selectfont] at (axis cs:3.30,150) {W13L\\W13P};
\draw[arrowc, line width=0.5pt, -{To[length=4pt,width=5pt]}] (axis cs:3.85,122) -- (axis cs:4.29,134);
\node[anchor=north west, align=left, inner sep=0pt, font=\fontsize{8.5}{10}\selectfont] at (axis cs:3.79,-187) {W18L\\W18P};
\draw[arrowc, line width=0.5pt, -{To[length=4pt,width=5pt]}] (axis cs:4.44,-208) -- (axis cs:4.98,-146);
\node[anchor=north west, align=left, inner sep=0pt, font=\fontsize{8.5}{10}\selectfont] at (axis cs:6.18,-179) {W17P\\W19L};
\draw[arrowc, line width=0.5pt, -{To[length=4pt,width=5pt]}] (axis cs:6.82,-206) -- (axis cs:7.32,-268);
\end{axis}
\end{tikzpicture}
\end{document}
